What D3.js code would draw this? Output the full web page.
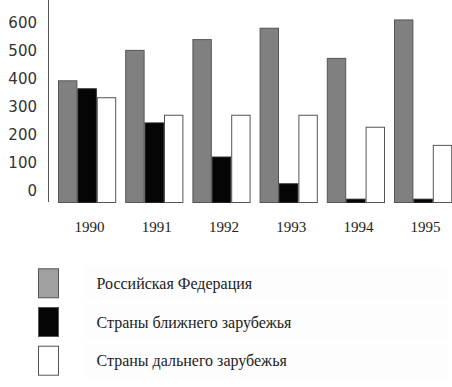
<!DOCTYPE html>
<html>
<head>
<meta charset="utf-8">
<script src="https://cdn.jsdelivr.net/npm/d3@7"></script>
<style>
  body { margin: 0; background: #fff; }
  svg { display: block; }
</style>
</head>
<body>
<svg id="chart" width="452" height="387"></svg>
<script>
// data
const years = ["1990", "1991", "1992", "1993", "1994", "1995"];
const seriesNames = ["Российская Федерация", "Страны ближнего зарубежья", "Страны дальнего зарубежья"];
const russia = [399, 498, 533, 570, 472, 597];
const nearAbroad = [373, 262, 151, 64, 14, 14];
const farAbroad = [344, 287, 287, 287, 248, 189];
const yTicks = [0, 100, 200, 300, 400, 500, 600];

const series = [russia, nearAbroad, farAbroad];
const fills = ["#808080", "#050505", "#ffffff"];
const legendFills = ["#a0a0a0", "#050505", "#ffffff"];
const strokes = ["#555", "#222", "#555"];

const svg = d3.select("#chart");

// bars
let x = d3.scaleBand()
    .domain(years)
    .range([53.5, 53.5 + 6 * 67.2])
    .paddingInner(0.134)
    .paddingOuter(0.067);

let xInner = d3.scaleBand()
    .domain(d3.range(series.length))
    .range([0, x.bandwidth()]);

let y = d3.scaleLinear()
    .domain([0, 600])
    .range([203, 18.5]);

// tick labels sit a bit off the bar scale in the original
let yLabel = d3.scaleLinear()
    .domain([0, 600])
    .range([191, 23]);

let rows = [];
years.forEach((yr, i) => {
    series.forEach((s, j) => rows.push({year: yr, s: j, value: s[i]}));
});

svg.append("g")
    .selectAll("rect")
    .data(rows)
    .join("rect")
    .attr("x", d => x(d.year) + xInner(d.s) + 0.5)
    .attr("y", d => y(d.value) + 0.5)
    .attr("width", xInner.bandwidth() - 1)
    .attr("height", d => y(0) - y(d.value) - 1)
    .attr("fill", d => fills[d.s])
    .attr("stroke", d => strokes[d.s])
    .attr("stroke-width", 1);

// y axis
svg.append("line")
    .attr("x1", 48.5).attr("x2", 48.5)
    .attr("y1", 0).attr("y2", 202)
    .attr("stroke", "#555");

let yAxis = svg.append("g")
    .attr("transform", "translate(48,0)")
    .call(d3.axisLeft(yLabel).tickValues(yTicks).tickSize(0).tickPadding(11));
yAxis.select(".domain").remove();
yAxis.selectAll("text")
    .attr("font-family", "DejaVu Sans")
    .attr("font-size", 15)
    .attr("fill", "#333");

// year labels
svg.append("g")
    .selectAll("text")
    .data(years)
    .join("text")
    .attr("x", d => x(d) + x.bandwidth() / 2 + 2.5)
    .attr("y", 227)
    .attr("dy", "0.35em")
    .attr("text-anchor", "middle")
    .attr("font-family", "Liberation Serif")
    .attr("font-size", 15)
    .attr("fill", "#222")
    .text(d => d);

// legend
let legend = svg.append("g")
    .selectAll("g")
    .data(seriesNames)
    .join("g")
    .attr("transform", (d, i) => "translate(0," + (283.3 + i * 38.7) + ")");

legend.append("rect")
    .attr("x", 85).attr("y", -17)
    .attr("width", 362).attr("height", 34)
    .attr("fill", "#fdfdfd");

legend.append("rect")
    .attr("x", 38.5).attr("y", -14.5)
    .attr("width", 20).attr("height", 29)
    .attr("fill", (d, i) => legendFills[i])
    .attr("stroke", "#555");

legend.append("text")
    .attr("x", 96.5)
    .attr("dy", "0.35em")
    .attr("font-family", "Liberation Serif")
    .attr("font-size", 16)
    .attr("fill", "#222")
    .text(d => d);
</script>
</body>
</html>
